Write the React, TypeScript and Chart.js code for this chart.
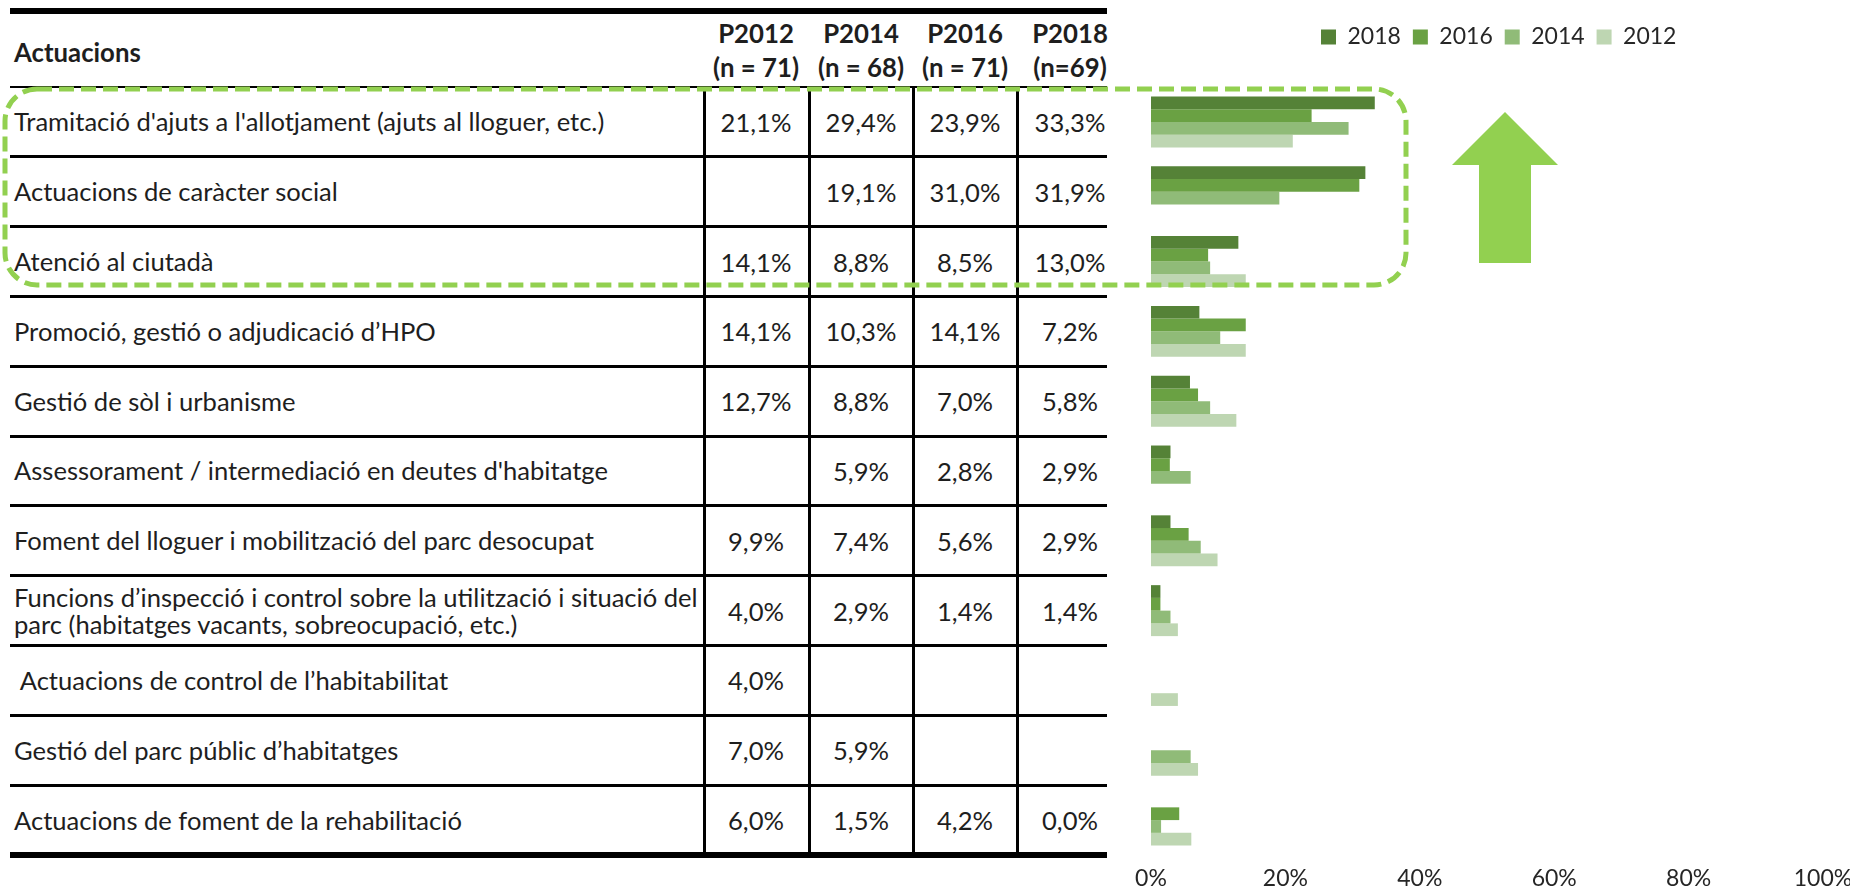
import React, { useEffect, useMemo, useRef } from 'react';
import { Chart, registerables } from 'chart.js';

Chart.register(...registerables);

// ---------------- DATA ----------------
const categories: string[] = [
  "Tramitació d'ajuts a l'allotjament (ajuts al lloguer, etc.)",
  'Actuacions de caràcter social',
  'Atenció al ciutadà',
  'Promoció, gestió o adjudicació d’HPO',
  'Gestió de sòl i urbanisme',
  "Assessorament / intermediació en deutes d'habitatge",
  'Foment del lloguer i mobilització del parc desocupat',
  'Funcions d’inspecció i control sobre la utilització i situació del\nparc (habitatges vacants, sobreocupació, etc.)',
  ' Actuacions de control de l’habitabilitat',
  'Gestió del parc públic d’habitatges',
  'Actuacions de foment de la rehabilitació',
];

const headerTitle = 'Actuacions';
const columnNames: string[] = ['P2012', 'P2014', 'P2016', 'P2018'];
const columnN: string[] = ['(n = 71)', '(n = 68)', '(n = 71)', '(n=69)'];

const p2012: (number | null)[] = [21.1, null, 14.1, 14.1, 12.7, null, 9.9, 4.0, 4.0, 7.0, 6.0];
const p2014: (number | null)[] = [29.4, 19.1, 8.8, 10.3, 8.8, 5.9, 7.4, 2.9, null, 5.9, 1.5];
const p2016: (number | null)[] = [23.9, 31.0, 8.5, 14.1, 7.0, 2.8, 5.6, 1.4, null, null, 4.2];
const p2018: (number | null)[] = [33.3, 31.9, 13.0, 7.2, 5.8, 2.9, 2.9, 1.4, null, null, 0.0];

const seriesLabels: string[] = ['2018', '2016', '2014', '2012'];
const seriesColors: string[] = ['#558237', '#6AA143', '#90BB78', '#BED6B2'];

const xTickValues: number[] = [0, 20, 40, 60, 80, 100];

// ---------------- LAYOUT ----------------
const TABLE_LEFT = 10;
const TABLE_RIGHT = 1107;
const BODY_TOP = 87;
const BODY_BOTTOM = 855;
const ROW_H = (BODY_BOTTOM - BODY_TOP) / categories.length;
const COL_LINES = [704, 809, 913, 1017];
const COL_CENTERS = [756, 861, 965, 1070];
const CHART_LEFT = 1151;
const CHART_RIGHT = 1823;
const LEGEND_CENTER_Y = 37;
const LEGEND_FIRST_BOX_X = 1321;
const CANVAS_W = 1880;
const CANVAS_H = 920;

const TABLE_FONT = 'Lato, "Open Sans", sans-serif';
const AXIS_FONT = 'Lato, "Open Sans", sans-serif';
const AXIS_FONT_SIZE = 23;
const TEXT_COLOR = '#1e1e1e';
const ACCENT = '#92D050';

function measure(text: string, font: string): number {
  const ctx = document.createElement('canvas').getContext('2d')!;
  ctx.font = font;
  return ctx.measureText(text).width;
}
function fitSize(text: string, weight: string, family: string, target: number): number {
  const w = measure(text, `${weight} 100px ${family}`);
  return (100 * target) / w;
}

const fmt = (v: number | null) => (v === null ? '' : v.toFixed(1).replace('.', ',') + '%');

export default function App() {
  const canvasRef = useRef<HTMLCanvasElement>(null);

  const sizes = useMemo(() => {
    const reg = fitSize('Funcions d’inspecció i control sobre la utilització i situació del', '400', TABLE_FONT, 684);
    const bold = fitSize('(n = 71)', '700', TABLE_FONT, 86);
    return { reg, bold };
  }, []);

  useEffect(() => {
    const S = AXIS_FONT_SIZE;
    const legendPad = 12;
    const legendTop = LEGEND_CENTER_Y - legendPad - S / 2;
    const legendBottom = legendTop + S + legendPad + 10;
    const spacer = Math.max(BODY_TOP - legendBottom, 1);
    const rightPad = CANVAS_W - CHART_RIGHT;

    const overlay = {
      id: 'overlay',
      afterDraw(chart: any) {
        const ctx = chart.ctx as CanvasRenderingContext2D;
        ctx.save();
        ctx.strokeStyle = ACCENT;
        ctx.lineWidth = 5;
        ctx.setLineDash([15, 7]);
        ctx.beginPath();
        (ctx as any).roundRect(5, 89, 1401, 196, 32);
        ctx.stroke();
        ctx.setLineDash([]);
        ctx.fillStyle = ACCENT;
        ctx.beginPath();
        ctx.moveTo(1505, 112);
        ctx.lineTo(1558, 165);
        ctx.lineTo(1531, 165);
        ctx.lineTo(1531, 263);
        ctx.lineTo(1479, 263);
        ctx.lineTo(1479, 165);
        ctx.lineTo(1452, 165);
        ctx.closePath();
        ctx.fill();
        ctx.restore();
      },
    };

    const legendShift = {
      id: 'legendShift',
      afterLayout(chart: any) {
        const l = chart.legend;
        if (!l || !l.lineWidths || !l.lineWidths.length) return;
        const pad = l.options.labels.padding;
        const startX = (l.left + pad + l.right - l.lineWidths[0]) / 2;
        const shift = LEGEND_FIRST_BOX_X - startX;
        l.left += shift;
        l.right += shift;
      },
    };

    const data = [p2018, p2016, p2014, p2012];
    const options: any = {
      responsive: false,
      animation: false,
      devicePixelRatio: 1,
      indexAxis: 'y',
      layout: { padding: { left: CHART_LEFT, right: rightPad, top: legendTop, bottom: 0 } },
      scales: {
        x: {
          min: 0,
          max: 100,
          position: 'bottom',
          grid: { display: false, drawTicks: false },
          border: { display: false },
          afterBuildTicks: (axis: any) => {
            axis.ticks = xTickValues.map((v) => ({ value: v }));
          },
          ticks: {
            padding: 12,
            color: '#262626',
            font: { family: AXIS_FONT, size: S, lineHeight: '24px' },
            callback: (v: any) => `${v}%`,
          },
        },
        y: { display: false },
      },
      plugins: {
        legend: {
          position: 'top',
          labels: {
            boxWidth: 15,
            boxHeight: 15,
            padding: legendPad,
            color: '#262626',
            font: { family: AXIS_FONT, size: S },
          },
        },
        title: {
          display: true,
          text: '',
          padding: 0,
          weight: 500,
          font: { size: 10, lineHeight: `${spacer.toFixed(2)}px` },
        },
        tooltip: { enabled: false },
      },
    };

    const chart = new Chart(canvasRef.current!, {
      type: 'bar',
      data: {
        labels: categories,
        datasets: seriesLabels.map((label, i) => ({
          label,
          data: data[i] as any,
          backgroundColor: seriesColors[i],
          borderWidth: 0,
          categoryPercentage: 0.73,
          barPercentage: 1,
        })),
      },
      options,
      plugins: [overlay, legendShift],
    });

    // second pass: align the plot area with the table rows
    const ca = chart.chartArea;
    const newSpacer = Math.max(spacer + (BODY_TOP - ca.top), 1);
    const newBottomPad = Math.max(ca.bottom - BODY_BOTTOM, 0);
    options.plugins.title.font = { size: 10, lineHeight: `${newSpacer.toFixed(2)}px` };
    options.layout.padding = { left: CHART_LEFT, right: rightPad, top: legendTop, bottom: newBottomPad };
    chart.options = options;
    chart.update();

    return () => chart.destroy();
  }, [sizes]);

  const valueCols = [p2012, p2014, p2016, p2018];
  const black = '#000';

  const els: React.ReactNode[] = [];
  els.push(<div key="top" style={{ position: 'absolute', left: TABLE_LEFT, top: 8, width: TABLE_RIGHT - TABLE_LEFT, height: 6, background: black }} />);
  els.push(<div key="hb" style={{ position: 'absolute', left: TABLE_LEFT, top: BODY_TOP - 1.5, width: TABLE_RIGHT - TABLE_LEFT, height: 2.5, background: black }} />);
  for (let k = 1; k < categories.length; k++) {
    const y = BODY_TOP + k * ROW_H;
    els.push(<div key={'r' + k} style={{ position: 'absolute', left: TABLE_LEFT, top: y - 1.5, width: TABLE_RIGHT - TABLE_LEFT, height: 3, background: black }} />);
  }
  els.push(<div key="bot" style={{ position: 'absolute', left: TABLE_LEFT, top: BODY_BOTTOM - 3, width: TABLE_RIGHT - TABLE_LEFT, height: 6, background: black }} />);
  COL_LINES.forEach((x, i) => {
    els.push(<div key={'v' + i} style={{ position: 'absolute', left: x - 1.5, top: BODY_TOP, width: 3, height: BODY_BOTTOM - BODY_TOP, background: black }} />);
  });

  els.push(
    <div key="ht" style={{ position: 'absolute', left: 14, top: 32, height: 40, display: 'flex', alignItems: 'center', fontWeight: 700, fontSize: sizes.bold, whiteSpace: 'pre' }}>
      {headerTitle}
    </div>
  );
  columnNames.forEach((name, i) => {
    els.push(
      <div key={'cn' + i} style={{ position: 'absolute', left: COL_CENTERS[i] - 60, width: 120, top: 13, height: 40, display: 'flex', alignItems: 'center', justifyContent: 'center', fontWeight: 700, fontSize: sizes.bold, whiteSpace: 'pre' }}>
        {name}
      </div>
    );
    els.push(
      <div key={'cc' + i} style={{ position: 'absolute', left: COL_CENTERS[i] - 60, width: 120, top: 47, height: 40, display: 'flex', alignItems: 'center', justifyContent: 'center', fontWeight: 700, fontSize: sizes.bold, whiteSpace: 'pre' }}>
        {columnN[i]}
      </div>
    );
  });

  categories.forEach((cat, r) => {
    const top = BODY_TOP + r * ROW_H;
    els.push(
      <div key={'l' + r} style={{ position: 'absolute', left: 14, top, height: ROW_H, width: 688, display: 'flex', flexDirection: 'column', justifyContent: 'center', lineHeight: '27px', fontSize: sizes.reg, whiteSpace: 'pre' }}>
        {cat.split('\n').map((line, j) => (
          <div key={j}>{line}</div>
        ))}
      </div>
    );
    valueCols.forEach((col, c) => {
      const v = col[r];
      if (v === null) return;
      els.push(
        <div key={'v' + r + '_' + c} style={{ position: 'absolute', left: COL_CENTERS[c] - 50, width: 100, top, height: ROW_H, display: 'flex', alignItems: 'center', justifyContent: 'center', fontSize: sizes.reg, whiteSpace: 'pre' }}>
          {fmt(v)}
        </div>
      );
    });
  });

  return (
    <div style={{ position: 'absolute', left: 0, top: 0, width: 1850, height: 889, background: '#fff', fontFamily: TABLE_FONT, color: TEXT_COLOR, overflow: 'hidden' }}>
      {els}
      <canvas ref={canvasRef} width={CANVAS_W} height={CANVAS_H} style={{ position: 'absolute', left: 0, top: 0, width: CANVAS_W, height: CANVAS_H }} />
    </div>
  );
}
